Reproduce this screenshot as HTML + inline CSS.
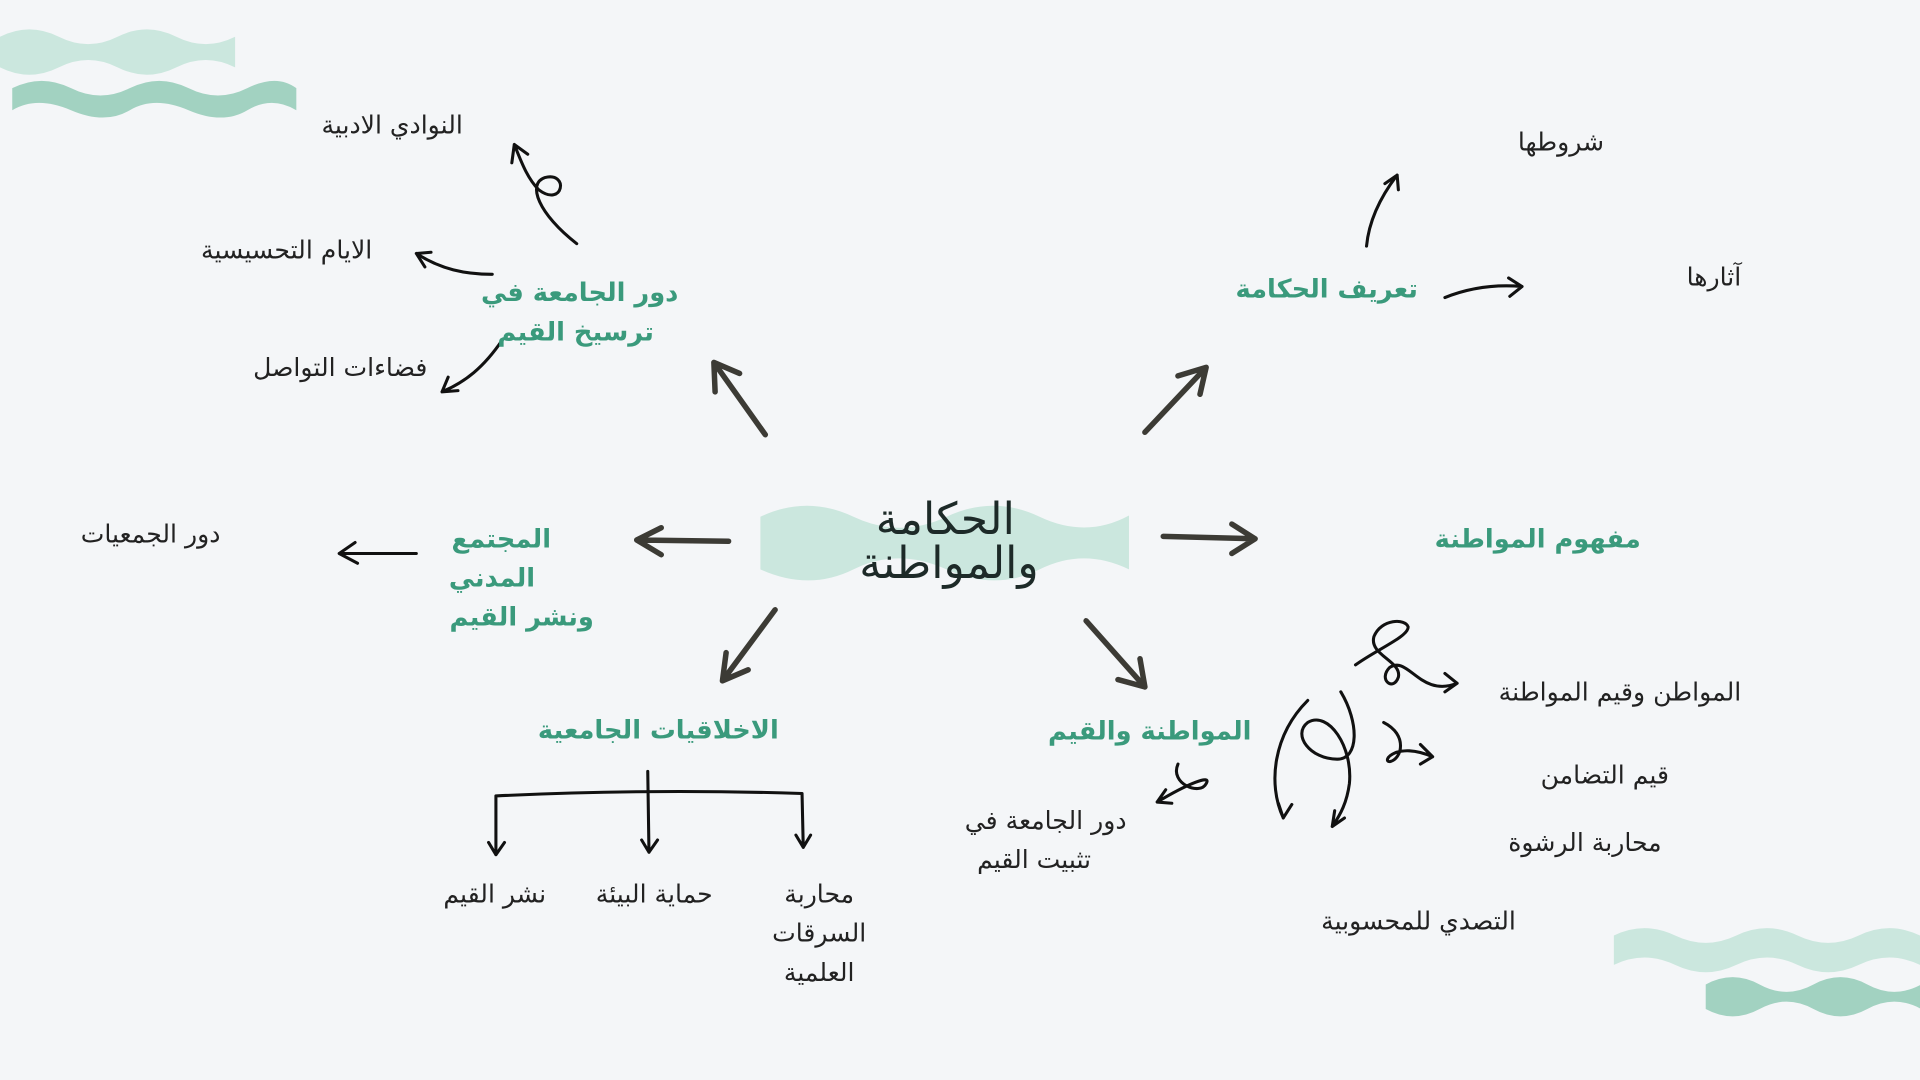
<!DOCTYPE html>
<html><head><meta charset="utf-8"><style>
html,body{margin:0;padding:0;background:#f4f6f8;overflow:hidden}
svg{display:block}
text{font-family:"DejaVu Sans","Liberation Sans",sans-serif}
.b{fill:#222;font-size:20.5px}
.g{fill:#3a9a7c;font-size:21px;font-weight:bold}
.c{fill:#1d2a28;font-size:36px}
</style></head><body>
<svg width="1920" height="1080" viewBox="0 0 1568 882" xmlns="http://www.w3.org/2000/svg">
<rect width="1568" height="882" fill="#f4f6f8"/>
<path d="M0,30 q24,-12 48,0 t48,0 t48,0 t48,0 v25 q-24,-12 -48,0 t-48,0 t-48,0 t-48,0z" fill="#cbe7de"/>
<path d="M10,72 q24,-12 48,0 t48,0 t48,0 t48,0 t40,0 v18 q-20,-12 -40,0 t-48,0 t-48,0 t-48,0 t-48,0z" fill="#a2d2c1"/>
<path d="M1318,764 q25,-12 50,0 t50,0 t50,0 t50,0 t50,0 v24 q-25,-12 -50,0 t-50,0 t-50,0 t-50,0 t-50,0z" fill="#cbe7de"/>
<path d="M1393,804 q22,-12 44,0 t44,0 t44,0 t44,0 v20 q-22,-12 -44,0 t-44,0 t-44,0 t-44,0z" fill="#a2d2c1"/>
<path d="M621,422 q38,-18 76,0 t76,0 t76,0 t73,-1 v44 q-37,-18 -73,0 t-76,0 t-76,0 t-76,0z" fill="#cbe7de"/>
<text class="c" x="772" y="436" text-anchor="middle">الحكامة</text>
<text class="c" x="775" y="472" text-anchor="middle">والمواطنة</text>
<g stroke="#3c3b35" stroke-width="4.5" fill="none" stroke-linecap="round" stroke-linejoin="round">
<path d="M625,355 L583,296 M583,296 L584,320 M583,296 L604,305"/>
<path d="M935,353 L985,300 M985,300 L962,307 M985,300 L980,322"/>
<path d="M595,442 L520,441 M520,441 L540,431 M520,441 L540,453"/>
<path d="M950,438 L1025,440 M1025,440 L1006,428 M1025,440 L1006,452"/>
<path d="M633,498 L590,556 M590,556 L593,533 M590,556 L611,547"/>
<path d="M887,507 L935,561 M935,561 L913,555 M935,561 L931,538"/>
</g>
<g stroke="#111" stroke-width="2.5" fill="none" stroke-linecap="round" stroke-linejoin="round">
<path d="M471,199 C440,175 430,150 445,145 C465,140 460,170 440,155 C430,145 425,130 420,118 M420,118 L418,133 M420,118 L431,126"/>
<path d="M402,224 C380,224 360,220 340,207 M340,207 L347,218 M340,207 L352,206"/>
<path d="M410,278 C395,300 380,312 361,320 M361,320 L366,308 M361,320 L374,319"/>
<path d="M340,452 L277,452 M277,452 L290,443 M277,452 L292,460"/>
<path d="M1116,201 C1118,180 1128,160 1141,143 M1141,143 L1131,150 M1141,143 L1142,155"/>
<path d="M1180,243 C1200,235 1220,232 1243,234 M1243,234 L1232,227 M1243,234 L1233,242"/>
<path d="M529,630 L530,696 M530,696 L524,686 M530,696 L537,686"/>
<path d="M405,650 Q530,644 655,648 M405,650 L405,698 M405,698 L399,688 M405,698 L412,688 M655,648 L656,692 M656,692 L650,682 M656,692 L662,682"/>
<path d="M962,624 C955,640 980,650 985,640 C990,632 970,640 945,655 M945,655 L952,645 M945,655 L957,656"/>
<path d="M1107,543 C1125,530 1150,520 1150,512 C1148,505 1128,505 1122,520 C1118,535 1145,540 1142,553 C1138,565 1125,555 1135,545 C1150,535 1160,570 1190,558 M1190,558 L1180,550 M1190,558 L1180,565"/>
<path d="M1068,572 C1040,600 1035,640 1048,668 M1048,668 L1044,656 M1048,668 L1055,657"/>
<path d="M1095,565 C1110,590 1110,620 1092,620 C1070,620 1055,600 1068,590 C1085,580 1105,610 1102,640 C1100,655 1095,665 1088,675 M1088,675 L1090,662 M1088,675 L1098,668"/>
<path d="M1130,590 C1150,600 1145,620 1135,622 C1128,622 1140,605 1170,618 M1170,618 L1160,608 M1170,618 L1160,624"/>
</g>
<g text-anchor="end">
<text class="b" x="378" y="109">النوادي الادبية</text>
<text class="b" x="304" y="211">الايام التحسيسية</text>
<text class="b" x="349" y="307">فضاءات التواصل</text>
<text class="g" x="554" y="246">دور الجامعة في</text>
<text class="g" x="534" y="278">ترسيخ القيم</text>
<text class="b" x="180" y="443">دور الجمعيات</text>
<text class="g" x="450" y="447">المجتمع</text>
<text class="g" x="437" y="479">المدني</text>
<text class="g" x="485" y="511">ونشر القيم</text>
<text class="g" x="636" y="603">الاخلاقيات الجامعية</text>
<text class="b" x="446" y="737">نشر القيم</text>
<text class="b" x="582" y="737">حماية البيئة</text>
<text class="g" x="1158" y="243">تعريف الحكامة</text>
<text class="b" x="1310" y="123">شروطها</text>
<text class="b" x="1422" y="233">آثارها</text>
<text class="g" x="1340" y="447">مفهوم المواطنة</text>
<text class="g" x="1022" y="604">المواطنة والقيم</text>
<text class="b" x="920" y="677">دور الجامعة في</text>
<text class="b" x="891" y="709">تثبيت القيم</text>
<text class="b" x="1422" y="572">المواطن وقيم المواطنة</text>
<text class="b" x="1363" y="640">قيم التضامن</text>
<text class="b" x="1357" y="695">محاربة الرشوة</text>
<text class="b" x="1238" y="759">التصدي للمحسوبية</text>
</g>
<g text-anchor="middle">
<text class="b" x="669" y="737">محاربة</text>
<text class="b" x="669" y="769">السرقات</text>
<text class="b" x="669" y="801">العلمية</text>
</g>
</svg>
</body></html>
